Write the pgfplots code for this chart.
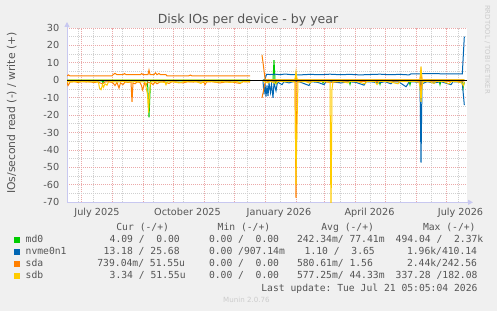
\documentclass[border=0pt]{standalone}
\usepackage{fontspec}
\setmainfont{DejaVu Sans}
\setmonofont{DejaVu Sans Mono}
\usepackage{pgfplots}
\pgfplotsset{compat=1.18}
\usetikzlibrary{arrows.meta}
\definecolor{bgc}{HTML}{F0F0F0}
\definecolor{txt}{HTML}{555555}
\definecolor{mgrid}{HTML}{EBA9A9}
\definecolor{ngrid}{HTML}{D0D0D0}
\definecolor{axc}{HTML}{C8C8F0}
\definecolor{faint}{HTML}{CCCCCC}
\definecolor{cmd}{HTML}{00CC00}
\definecolor{cnv}{HTML}{0066B3}
\definecolor{csda}{HTML}{FF8000}
\definecolor{csdb}{HTML}{FFCC00}
\begin{document}
\begin{tikzpicture}[x=1pt,y=1pt]
\fill[bgc] (0,0) rectangle (497,311);
\begin{axis}[
  at={(67pt,108.7pt)}, anchor=south west,
  scale only axis, width=400pt, height=174.3pt,
  xmin=67, xmax=467, ymin=-70, ymax=30,
  axis background/.style={fill=white},
  axis x line=bottom, axis y line=left,
  axis line style={draw=axc, line width=1pt, shorten >=-6pt, -{Triangle[length=5pt,width=5pt]}},
  xtick={81,112,143,173,204,234,265,296,324,355,385,416,446},
  xticklabels={},
  extra x ticks={97,187.5,279,369.5,460.5},
  extra x tick labels={July 2025,October 2025,January 2026,April 2026,July 2026},
  extra x tick style={grid=none, major tick length=0pt},
  minor xtick={78,93,122,153,183,218,247,280,310,340,370,400,431,458},
  ytick={-70,-60,-50,-40,-30,-20,-10,0,10,20,30},
  yticklabels={-70,-60,-50,-40,-30,-20,-10,0,10,20,30},
  minor ytick={-65,-55,-45,-35,-25,-15,-5,5,15,25},
  grid=both,
  major grid style={draw=mgrid, line width=0.8pt, dash pattern=on 1pt off 1pt},
  minor grid style={draw=ngrid, line width=0.8pt, dash pattern=on 1pt off 1pt},
  major tick length=0pt, minor tick length=0pt,
  tick label style={font=\fontsize{9.7}{10}\selectfont, text=txt},
  yticklabel style={anchor=east, inner sep=0pt, xshift=-7.5pt},
  xticklabel style={anchor=base, inner sep=0pt, yshift=-12.7pt},
  unbounded coords=jump,
  clip=true,
]
% md0
\addplot[cmd, line width=1pt] coordinates {(67,-0.3) (102,-0.3) (103,-1.5) (104,-0.3) (147.5,-0.3) (149,-21.2) (150.5,-0.3) (250,-0.3) (251,nan) (263,-0.3) (275,-0.3) (276,-2.0) (277,-0.3) (322,-0.3) (323,-1.5) (324,-0.3) (349,-0.3) (350,-2.3) (351,-0.3) (379,-0.3) (380,-2.3) (381,-0.3) (409,-0.3) (410,-2.6) (411,-0.3) (420,-0.3) (421,-11) (422,-0.3) (439,-0.3) (440,-2.5) (441,-0.3) (462,-0.3) (463,-4.6) (464.3,-1.0)};
\addplot[cmd, line width=1pt] coordinates {(67,0.1) (250,0.1) (251,nan) (263,0.1) (273,0.1) (274,11.6) (275,0.1) (295,0.1) (296,1.1) (297,0.1) (464.3,0.1)};
% nvme0n1
\addplot[cnv, line width=1pt] coordinates {(263,-0.5) (264,-8) (265,-2) (266,-9.4) (267,-3) (268,-9) (269,-1.5) (270.5,-7) (271.5,-2) (273,-10) (274,-1.5) (276,-6) (277.5,-1) (282,-2.5) (284,-0.8) (289,-1.5) (294,-0.7) (300,-1) (309,-3) (311,-0.8) (318,-1.2) (324,-2.5) (326,-0.8) (334,-1.0) (341,-1.5) (349,-0.8) (356,-1.2) (364,-2.8) (366,-0.8) (373,-1.0) (379,-1.5) (385,-0.8) (391,-2.0) (393,-0.8) (399,-1.0) (406,-3.7) (407.5,-2.5) (409,-0.8) (416,-1.0) (420,-1.0) (421,-47.3) (422,-2) (427,-0.8) (434,-1.5) (441,-0.8) (451,-2.5) (453,-0.8) (459,-1.0) (462.3,-1.5) (464.3,-14.2)};
\addplot[cnv, line width=1pt] coordinates {(263,0.2) (265,0.5) (266.5,3.4) (270,3.3) (275,3.5) (280,3.2) (285,3.6) (290,3.3) (300,3.1) (310,3.4) (320,3.2) (330,3.5) (340,3.2) (350,3.4) (360,3.1) (370,3.3) (380,3.5) (390,3.2) (400,3.4) (409,3.1) (411,3.7) (430,3.8) (450,3.7) (462.3,3.7) (464.3,25)};
% sda
\addplot[csda, line width=1pt] coordinates {(67,-1.0) (68,-3.0) (69,-2.2) (70,-1.0) (74,-0.8) (78,-1.2) (82,-0.8) (86,-1.0) (90,-0.9) (94,-1.3) (98,-0.9) (102,-2.0) (105,-1.0) (109,-0.8) (113,-1.5) (115,-3.0) (117,-1.2) (119,-4.5) (120.5,-1.5) (123,-2.5) (125,-1.0) (128,-1.2) (131,-1.0) (132,-12.3) (133,-1.5) (135,-2.0) (137,-1.0) (140,-1.2) (141.5,-3.0) (142.5,-5.5) (143.5,-4.0) (144.5,-1.5) (146,-3.0) (147.5,-1.0) (151,-1.5) (153,-2.5) (155,-1.0) (157,-2.0) (160,-1.0) (164,-0.8) (169,-1.8) (172,-0.8) (177,-1.0) (183,-1.5) (188,-0.8) (193,-1.0) (198,-0.9) (204,-1.2) (205,-2.5) (206.5,-1.0) (212,-0.8) (220,-1.5) (226,-0.9) (232,-1.0) (240,-1.8) (243,-0.8) (250,-1.0) (251,nan) (262,-10) (263.5,-6) (265,-1.5) (269,-0.4) (279,-0.6) (289,-0.4) (295,-0.8) (296,-67.5) (297,-0.8) (305,-0.5) (320,-0.6) (330,-1.2) (345,-0.5) (370,-0.6) (390,-0.5) (410,-0.6) (420,-0.8) (421,-9) (422,-0.6) (440,-0.5) (455,-0.6) (464.3,-0.5)};
\addplot[csda, line width=1pt] coordinates {(67,2.5) (68.5,3.1) (70,2.5) (85,2.5) (100,2.6) (112,2.5) (113,3.2) (115,4.0) (117,3.2) (123,3.2) (124.5,3.9) (126,3.2) (128,3.3) (140.5,3.2) (141.7,3.9) (143,3.2) (148,3.3) (149,5.9) (150,3.3) (154,3.2) (155.5,4.3) (157,3.2) (159,3.9) (160.5,3.2) (166,3.2) (167,2.5) (180,2.5) (189,2.6) (190.5,3.0) (192,2.5) (210,2.5) (230,2.5) (250,2.5) (251,nan) (262,14.5) (263.5,8) (265,1.0) (266.5,0.2) (295,0.2) (296,3.5) (297,0.2) (420,0.2) (421,5.5) (422,0.2) (464.3,0.2)};
% sdb
\addplot[csdb, line width=1pt] coordinates {(67,-0.7) (71,-1.0) (75,-0.7) (80,-0.9) (85,-0.6) (90,-1.0) (95,-0.8) (98.5,-1.2) (99.5,-4.5) (101,-5.4) (102.5,-2.5) (103.5,-4.0) (105,-2.0) (107,-2.8) (108.5,-1.0) (113,-0.8) (118,-1.0) (123,-0.7) (128,-1.0) (135,-0.8) (140,-0.9) (145,-1.0) (147.5,-8) (148.5,-18.5) (149.5,-8) (150.5,-1.0) (154,-0.8) (160,-1.0) (165,-1.2) (166,-2.6) (167,-1.0) (172,-0.8) (179,-1.5) (184,-0.7) (190,-0.9) (196,-0.7) (201,-1.8) (203,-0.8) (210,-0.7) (216,-1.0) (222,-0.8) (230,-1.2) (237,-0.7) (240,-1.6) (243,-0.8) (250,-0.7) (251,nan) (263,-0.5) (268,-1.5) (270,-0.6) (276,-1.8) (278,-0.6) (285,-0.8) (290,-0.6) (295,-1.0) (296,-60) (297,-25) (298,-1.0) (305,-0.7) (310,-1.6) (312,-0.6) (320,-0.8) (325,-0.6) (330,-1.0) (331,-80) (332,-5) (333,-0.8) (340,-0.6) (348,-1.5) (350,-0.6) (358,-0.8) (365,-2.0) (367,-0.6) (375,-0.7) (377,-2.4) (379,-0.7) (385,-0.6) (392,-1.2) (398,-2.0) (400,-0.7) (408,-0.8) (414,-0.6) (419,-1.0) (420,-4) (421,-12.3) (422,-3) (423,-0.8) (429,-0.6) (434,-1.8) (436,-0.7) (443,-0.6) (449,-2.0) (451,-0.7) (457,-0.8) (462,-1.5) (463.3,-3.0) (464.3,-1.0)};
\addplot[csdb, line width=1pt] coordinates {(67,0.1) (250,0.1) (251,nan) (263,0.1) (295,0.1) (296,4.9) (297,0.1) (420,0.1) (421,7.8) (422,0.1) (464.3,0.1)};
% zero line
\addplot[black, line width=1.3pt] coordinates {(67,0) (467,0)};
\end{axis}
% title and labels
\node[anchor=base, text=txt, font=\fontsize{12.5}{13}\selectfont, inner sep=0pt] at (248,287) {Disk IOs per device - by year};
\node[anchor=base, rotate=90, text=txt, font=\fontsize{10.8}{12}\selectfont, inner sep=0pt] at (15,198) {IOs/second read (-) / write (+)};
\node[anchor=base west, rotate=-90, text=faint, font=\fontsize{6.9}{8}\selectfont, inner sep=0pt] at (485,306) {RRDTOOL / TOBI OETIKER};
\node[anchor=base west, text=faint, font=\fontsize{7.1}{8}\selectfont, inner sep=0pt] at (223,8.1) {Munin 2.0.76};
% legend
\begin{scope}[every node/.style={anchor=base west, inner sep=0pt, text=txt, font=\ttfamily\fontsize{9.7}{10}\selectfont}]
\node at (116.2,80.4) {Cur~(-/+)};
\node at (217.5,80.4) {Min~(-/+)};
\node at (321.2,80.4) {Avg~(-/+)};
\node at (422.8,80.4) {Max~(-/+)};
\fill[cmd] (14,68.3) rectangle (20,74.3);
\fill[cnv] (14,56.3) rectangle (20,62.3);
\fill[csda] (14,44.3) rectangle (20,50.3);
\fill[csdb] (14,32.3) rectangle (20,38.3);
\node at (25.5,68.4) {md0};
\node at (25.5,56.4) {nvme0n1};
\node at (25.5,44.4) {sda};
\node at (25.5,32.4) {sdb};
\node at (109.5,68.4) {4.09~/~~0.00};
\node at (103.5,56.4) {13.18~/~25.68};
\node at (97.2,44.4) {739.04m/~51.55u};
\node at (109.5,32.4) {3.34~/~51.55u};
\node at (208.8,68.4) {0.00~/~~0.00};
\node at (208.8,56.4) {0.00~/907.14m};
\node at (208.8,44.4) {0.00~/~~0.00};
\node at (208.8,32.4) {0.00~/~~0.00};
\node at (296.8,68.4) {242.34m/~77.41m};
\node at (304.5,56.4) {1.10~/~~3.65};
\node at (296.8,44.4) {580.61m/~1.56};
\node at (296.8,32.4) {577.25m/~44.33m};
\node at (395.5,68.4) {494.04~/~~2.37k};
\node at (406.8,56.4) {1.96k/410.14};
\node at (406.8,44.4) {2.44k/242.56};
\node at (395.5,32.4) {337.28~/182.08};
\node at (261.2,19.7) {Last~update:~Tue~Jul~21~05:05:04~2026};
\end{scope}
\end{tikzpicture}
\end{document}
